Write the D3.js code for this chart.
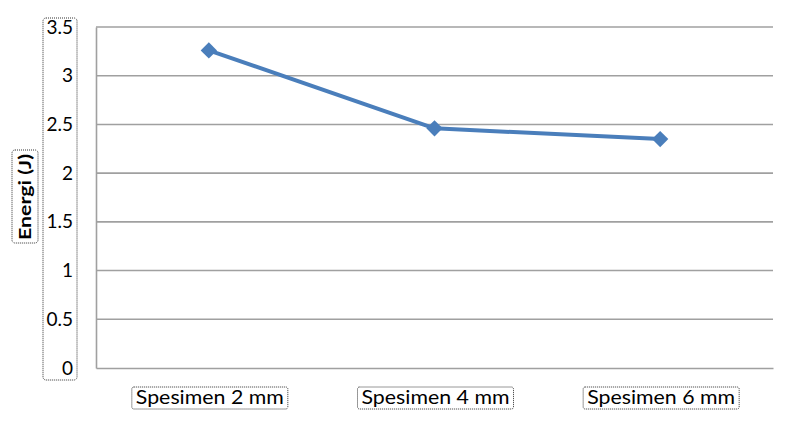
<!DOCTYPE html>
<html>
<head>
<meta charset="utf-8">
<script src="https://cdn.jsdelivr.net/npm/d3@7"></script>
<style>
  html, body { margin: 0; padding: 0; background: #fff; }
  svg { display: block; }
</style>
</head>
<body>
<svg id="chart" width="786" height="421"></svg>
<script>
const categories = ["Spesimen 2 mm", "Spesimen 4 mm", "Spesimen 6 mm"];
const energi = [3.26, 2.46, 2.35];
const yTicks = [0, 0.5, 1, 1.5, 2, 2.5, 3, 3.5];
const yTitle = "Energi (J)";

const svg = d3.select("#chart");
const W = 786, H = 421;
const m = { left: 96, right: 13, top: 27, bottom: 53 };
const FONT = "Lato, 'Open Sans', 'DejaVu Sans', sans-serif";

const x = d3.scaleBand().domain(categories).range([m.left, W - m.right]);
const y = d3.scaleLinear().domain([0, 3.5]).range([H - m.bottom, m.top]);

// gridlines
svg.append("g").selectAll("line").data(yTicks.filter(d => d > 0)).join("line")
  .attr("x1", m.left).attr("x2", W - m.right)
  .attr("y1", d => y(d)).attr("y2", d => y(d))
  .attr("stroke", "#a0a0a0").attr("stroke-width", 1.6);

// y axis
const yAxis = d3.axisLeft(y).tickValues(yTicks).tickSize(0).tickFormat(d3.format("~g"));
const gy = svg.append("g").attr("transform", `translate(${m.left},0)`).call(yAxis);
gy.select(".domain").attr("stroke", "#a0a0a0").attr("stroke-width", 1.6);
gy.selectAll("text").attr("x", -23).attr("font-family", FONT).attr("font-size", 19).attr("fill", "#000");

// x axis
const xAxis = d3.axisBottom(x).tickSize(0).tickFormat(() => "");
const gx = svg.append("g").attr("transform", `translate(0,${y(0)})`).call(xAxis);
gx.select(".domain").attr("stroke", "#a0a0a0").attr("stroke-width", 1.6);

// y labels dotted box
svg.append("rect").attr("x", 43).attr("y", 18).attr("width", 34).attr("height", 362)
  .attr("rx", 3).attr("fill", "none").attr("stroke", "#333").attr("stroke-width", 1)
  .attr("stroke-dasharray", "1,1");

// x labels with dotted boxes
const lx = svg.append("g");
categories.forEach(c => {
  const cx = x(c) + x.bandwidth() / 2 + 1;
  lx.append("rect").attr("x", cx - 78).attr("y", 387).attr("width", 156).attr("height", 22)
    .attr("rx", 2).attr("fill", "none").attr("stroke", "#333").attr("stroke-width", 1)
    .attr("stroke-dasharray", "1,1");
  lx.append("text").attr("x", cx).attr("y", 404).attr("text-anchor", "middle")
    .attr("font-family", FONT).attr("font-size", 19).attr("fill", "#000")
    .attr("textLength", 148).attr("lengthAdjust", "spacingAndGlyphs").text(c);
});

// y title
const tcx = 25, tcy = 197;
svg.append("rect").attr("x", 12).attr("y", 150).attr("width", 26).attr("height", 93)
  .attr("rx", 3).attr("fill", "none").attr("stroke", "#333").attr("stroke-width", 1)
  .attr("stroke-dasharray", "1,1");
svg.append("text").attr("transform", `translate(${tcx + 6},${tcy}) rotate(-90)`)
  .attr("text-anchor", "middle").attr("font-family", FONT).attr("font-weight", "bold")
  .attr("font-size", 17).attr("fill", "#000")
  .attr("textLength", 86).attr("lengthAdjust", "spacingAndGlyphs").text(yTitle);

// line
const pts = categories.map((c, i) => [x(c) + x.bandwidth() / 2, y(energi[i])]);
svg.append("path").attr("d", d3.line()(pts)).attr("fill", "none")
  .attr("stroke", "#4a7ebb").attr("stroke-width", 4).attr("stroke-linejoin", "round");

// diamond markers
svg.append("g").selectAll("path").data(pts).join("path")
  .attr("transform", d => `translate(${d[0]},${d[1]})`)
  .attr("d", d3.symbol().type(d3.symbolDiamond2).size(170))
  .attr("fill", "#4a7ebb");
</script>
</body>
</html>
